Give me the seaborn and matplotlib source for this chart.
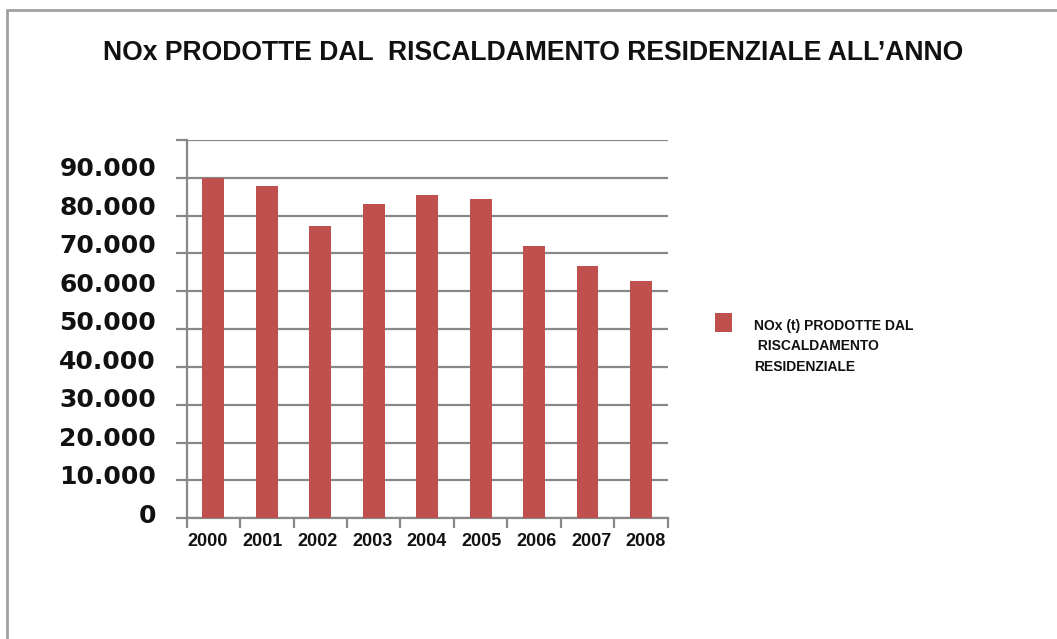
import matplotlib
matplotlib.use("Agg")
import matplotlib.pyplot as plt
import matplotlib.transforms as mtransforms
from matplotlib.lines import Line2D
from matplotlib.patches import Rectangle
from matplotlib.legend_handler import HandlerPatch
from matplotlib.container import BarContainer
from matplotlib.ticker import FixedLocator, FuncFormatter
import seaborn as sns

# NOx emissions (tonnes) from residential heating, per year
years = ["2000", "2001", "2002", "2003", "2004", "2005", "2006", "2007", "2008"]
nox_tonnes = [90000, 87900, 77200, 83200, 85500, 84400, 72100, 66800, 62800]
y_ticks = [0, 10000, 20000, 30000, 40000, 50000, 60000, 70000, 80000, 90000, 100000]
series_label = "NOx (t) PRODOTTE DAL\n RISCALDAMENTO\nRESIDENZIALE"
title_text = "NOx PRODOTTE DAL  RISCALDAMENTO RESIDENZIALE ALL\u2019ANNO"

BAR = "#C0504D"
GRID = "#888888"
W, H = 1057, 639
DPI = 100

sns.set_style("white")
plt.rcParams["font.family"] = ["Liberation Sans", "DejaVu Sans"]

fig = plt.figure(figsize=(W / DPI, H / DPI), dpi=DPI)
fig.patch.set_facecolor("white")

def px_box(l, t, r, b):
    return [l / W, 1 - b / H, (r - l) / W, (b - t) / H]

ax = fig.add_axes(px_box(186.7, 140.0, 667.7, 518.3))

sns.barplot(x=years, y=nox_tonnes, color=BAR, saturation=1, width=0.41,
            linewidth=0, label=series_label, ax=ax, zorder=3)
if ax.get_legend() is not None:
    ax.get_legend().remove()

ax.set_ylim(0, 100000)
ax.set_xlim(-0.5, len(years) - 0.5)
ax.set_xlabel("")
ax.set_ylabel("")

# y axis: thousands separated with a dot, no label on the top line
ax.yaxis.set_major_locator(FixedLocator(y_ticks))
ax.yaxis.set_major_formatter(FuncFormatter(
    lambda v, _: "" if v >= 100000 else f"{int(v):,}".replace(",", ".")))
ax.yaxis.grid(True, color=GRID, linewidth=1.6, zorder=0)
ax.set_axisbelow(True)
ax.tick_params(axis="y", which="major", left=True, length=8, width=1.6,
               color=GRID, pad=14, labelsize=18, labelcolor="#111111")
for lbl in ax.get_yticklabels():
    lbl.set_fontfamily("DejaVu Sans")
    lbl.set_fontweight("bold")

# x axis: year labels centred, tick marks between categories
ax.set_xticks(range(len(years)))
ax.set_xticks([i - 0.5 for i in range(len(years) + 1)], minor=True)
ax.tick_params(axis="x", which="major", bottom=True, length=0, pad=10.5,
               labelsize=13, labelcolor="#111111")
ax.tick_params(axis="x", which="minor", bottom=True, length=7.5, width=1.6,
               color=GRID, direction="out")
for lbl in ax.get_xticklabels():
    lbl.set_fontweight("bold")

for side in ("top", "right"):
    ax.spines[side].set_visible(False)
for side in ("left", "bottom"):
    ax.spines[side].set_color(GRID)
    ax.spines[side].set_linewidth(1.6)

# y labels sit slightly above their gridlines
for v, lbl in zip(y_ticks, ax.get_yticklabels()):
    dy = (5 + 6 * v / 90000) / DPI
    lbl.set_transform(lbl.get_transform() +
                      mtransforms.ScaledTranslation(0, dy, fig.dpi_scale_trans))
# year labels are spread a little wider than the bars
for i, lbl in enumerate(ax.get_xticklabels()):
    dx = (-5.5 + 1.3 * i) / DPI
    lbl.set_transform(lbl.get_transform() +
                      mtransforms.ScaledTranslation(dx, 0, fig.dpi_scale_trans))

fig.text(533 / W, 1 - 53 / H, title_text, ha="center", va="center",
         fontsize=19.1, fontweight="bold", color="#111111")


def square_key(legend, orig_handle, xdescent, ydescent, width, height, fontsize):
    # 12.2 x 13.7 pt key, raised to sit beside the first label line
    return Rectangle((-xdescent, height - ydescent - 13.7 + 4.4), 12.2, 13.7)


handles, labels = ax.get_legend_handles_labels()
leg = fig.legend(handles, labels, loc="upper left",
                 bbox_to_anchor=(715 / W, 1 - 319 / H),
                 frameon=False, prop={"size": 10, "weight": "bold"},
                 handlelength=1.25, handleheight=1.4, handletextpad=1.55,
                 borderpad=0, borderaxespad=0,
                 handler_map={BarContainer: HandlerPatch(
                     patch_func=square_key,
                     update_func=lambda h, o: h.update_from(o.patches[0]))})
for t in leg.get_texts():
    t.set_linespacing(1.58)
    t.set_color("#111111")
# key aligned to the top of the label block
for row in leg._legend_handle_box.get_children():
    for pack in row.get_children():
        pack.align = "top"

# thin grey frame along the top and left edges
fig.add_artist(Line2D([7 / W, 1], [1 - 10 / H, 1 - 10 / H], color="#a0a0a0",
                      linewidth=2, transform=fig.transFigure))
fig.add_artist(Line2D([7 / W, 7 / W], [0, 1 - 10 / H], color="#a0a0a0",
                      linewidth=2, transform=fig.transFigure))

fig.savefig("out.png", dpi=DPI, facecolor="white")
